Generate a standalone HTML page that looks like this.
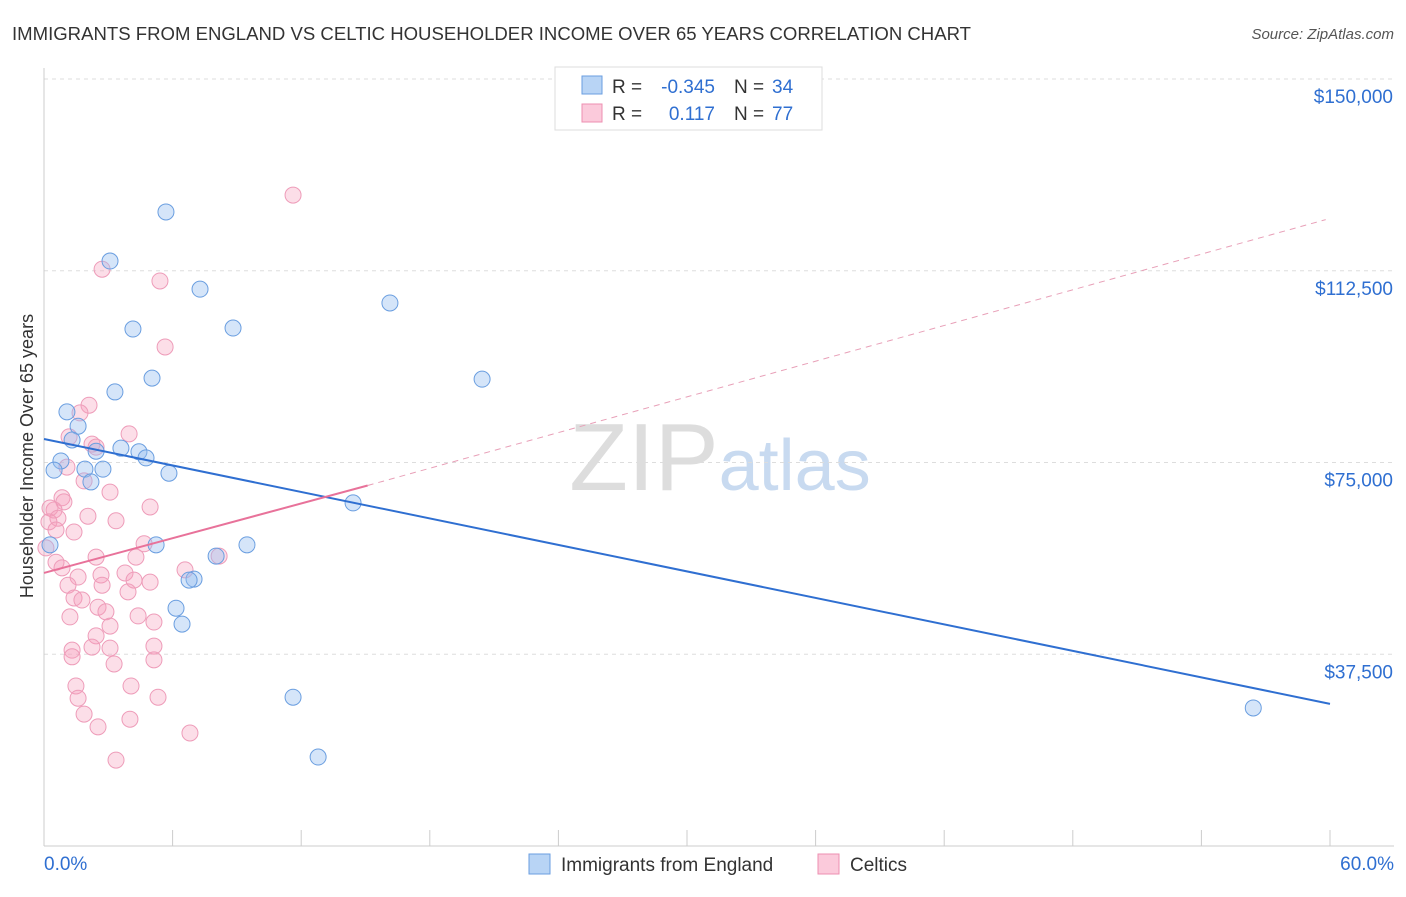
<!DOCTYPE html>
<html><head><meta charset="utf-8"><style>
body{margin:0;background:#fff;font-family:"Liberation Sans",sans-serif;}
svg text{font-family:"Liberation Sans",sans-serif;}
</style></head><body>
<svg id="chart" width="1406" height="892" xmlns="http://www.w3.org/2000/svg">
<text x="12" y="40" font-size="18" fill="#333" textLength="959" lengthAdjust="spacingAndGlyphs">IMMIGRANTS FROM ENGLAND VS CELTIC HOUSEHOLDER INCOME OVER 65 YEARS CORRELATION CHART</text>
<text x="1394" y="39" font-size="15" fill="#555" text-anchor="end" font-style="italic">Source: ZipAtlas.com</text>
<text x="720" y="490" font-size="96" fill="#ddd" text-anchor="middle" font-family="Liberation Serif">ZIP<tspan fill="#c8daf0" font-family="Liberation Sans" font-size="72">atlas</tspan></text>
<g id="grid"></g><g id="axes"></g><g id="marks"></g>
<text transform="translate(33,456) rotate(-90)" font-size="18" fill="#333" text-anchor="middle">Householder Income Over 65 years</text>
<g>
<rect x="555" y="67" width="267" height="63" fill="#fff" stroke="#ddd"/>
<rect x="582" y="76" width="20" height="18" fill="#b8d4f5" stroke="#6a9ee0"/>
<rect x="582" y="104" width="20" height="18" fill="#fbcadb" stroke="#ee8fb0"/>
<text x="612" y="93" font-size="19" fill="#333">R =</text>
<text x="715" y="93" font-size="19" fill="#2f6fd1" text-anchor="end">-0.345</text>
<text x="734" y="93" font-size="19" fill="#333">N =</text>
<text x="772" y="93" font-size="19" fill="#2f6fd1">34</text>
<text x="612" y="120" font-size="19" fill="#333">R =</text>
<text x="715" y="120" font-size="19" fill="#2f6fd1" text-anchor="end">0.117</text>
<text x="734" y="120" font-size="19" fill="#333">N =</text>
<text x="772" y="120" font-size="19" fill="#2f6fd1">77</text>
</g>
<g>
<rect x="529" y="854" width="21" height="20" fill="#b8d4f5" stroke="#6a9ee0"/>
<text x="561" y="871" font-size="19" fill="#333">Immigrants from England</text>
<rect x="818" y="854" width="21" height="20" fill="#fbcadb" stroke="#ee8fb0"/>
<text x="850" y="871" font-size="19" fill="#333">Celtics</text>
</g>
</svg>
<script>
const yTicks=[37500,75000,112500,150000];
const yTickLabels=["$37,500","$75,000","$112,500","$150,000"];
const englandX=[5.69,3.08,7.28,16.14,4.15,8.82,5.04,20.44,3.31,1.07,1.59,1.31,3.59,2.43,4.43,4.76,0.79,0.47,1.91,2.75,5.83,2.19,14.42,5.23,9.47,8.03,7.0,6.77,6.16,6.44,11.62,12.79,56.42,0.28];
const englandY=[124000,114400,108900,106200,101100,101300,91500,91300,88800,84900,82100,79400,77800,77200,77100,75900,75300,73500,73700,73700,72900,71200,67100,58900,58900,56700,52200,52000,46500,43400,29100,17400,27000,58900];
const celticX=[11.62,2.71,5.41,5.65,2.10,1.68,1.17,3.97,2.24,2.43,1.07,1.87,3.08,0.84,0.93,0.47,0.28,0.65,0.23,0.56,1.40,4.95,2.05,3.36,0.09,0.56,0.84,2.43,4.29,8.17,4.67,1.59,2.66,3.78,6.58,4.20,4.95,1.12,2.71,1.40,1.77,2.52,2.89,3.92,4.39,1.21,3.08,2.43,5.13,2.24,3.08,1.31,1.31,5.13,5.13,3.27,1.49,4.06,1.59,5.32,1.87,4.01,2.52,6.81,3.36];
const celticY=[127300,112800,110500,97600,86200,84700,80000,80600,78600,78000,74100,71400,69200,68100,67300,65700,66100,64100,63400,61800,61400,66300,64500,63600,58300,55500,54400,56500,56500,56700,59100,52600,53000,53400,54000,52000,51600,51000,51000,48500,48100,46700,45800,49700,45000,44800,43000,41100,43800,38900,38700,38300,37000,39100,36400,35600,31300,31300,28900,29100,25800,24800,23300,22100,16800];
const englandTrend=[[0,79600],[60,27800]];
const celticTrendSolid=[[0,53400],[15.1,70500]];
const celticTrendDash=[[15.1,70500],[59.8,122500]];
const NS="http://www.w3.org/2000/svg";
const X=v=>44+v/60*1286, Y=v=>846-v/150000*767;
function mk(tag,attrs,parent){const e=document.createElementNS(NS,tag);for(const k in attrs)e.setAttribute(k,attrs[k]);document.getElementById(parent).appendChild(e);return e;}
yTicks.forEach((t,i)=>{
 const g=mk('line',{x1:44,x2:1394,y1:Y(t),y2:Y(t),stroke:'#ddd','stroke-dasharray':'4,4'},'grid');
 
 
 const l=mk('text',{x:1393,y:Y(t)+24,'font-size':19,fill:'#2f6fd1','text-anchor':'end'},'axes');
 
 
 l.textContent=yTickLabels[i];
});
const ax=mk('line',{x1:44,x2:1394,y1:846,y2:846,stroke:'#ccc'},'axes');


const ay=mk('line',{x1:44,x2:44,y1:68,y2:846,stroke:'#ccc'},'axes');


for(let i=0;i<=10;i++){const t=mk('line',{x1:X(i*6),x2:X(i*6),y1:830,y2:846,stroke:'#ccc'},'axes');
 
 }
const x0=mk('text',{x:44,y:870,'font-size':19,fill:'#2f6fd1'},'axes');x0.textContent='0.0%';


const x1=mk('text',{x:1394,y:870,'font-size':19,fill:'#2f6fd1','text-anchor':'end'},'axes');x1.textContent='60.0%';


celticX.forEach((x,i)=>{const c=mk('circle',{cx:X(x),cy:Y(celticY[i]),r:8,fill:'rgba(246,160,190,0.35)',stroke:'#ee9cb9','stroke-width':1},'marks');
 
 });
englandX.forEach((x,i)=>{const c=mk('circle',{cx:X(x),cy:Y(englandY[i]),r:8,fill:'rgba(150,190,240,0.4)',stroke:'#6a9ee0','stroke-width':1},'marks');
 
 });
const tb=mk('line',{x1:X(englandTrend[0][0]),y1:Y(englandTrend[0][1]),x2:X(englandTrend[1][0]),y2:Y(englandTrend[1][1]),stroke:'#2f6fd1','stroke-width':2},'marks');


const tp=mk('line',{x1:X(celticTrendSolid[0][0]),y1:Y(celticTrendSolid[0][1]),x2:X(celticTrendSolid[1][0]),y2:Y(celticTrendSolid[1][1]),stroke:'#e8729a','stroke-width':2},'marks');


const td=mk('line',{x1:X(celticTrendDash[0][0]),y1:Y(celticTrendDash[0][1]),x2:X(celticTrendDash[1][0]),y2:Y(celticTrendDash[1][1]),stroke:'#e8a0b8','stroke-width':1,'stroke-dasharray':'6,5'},'marks');


</script>
</body></html>
